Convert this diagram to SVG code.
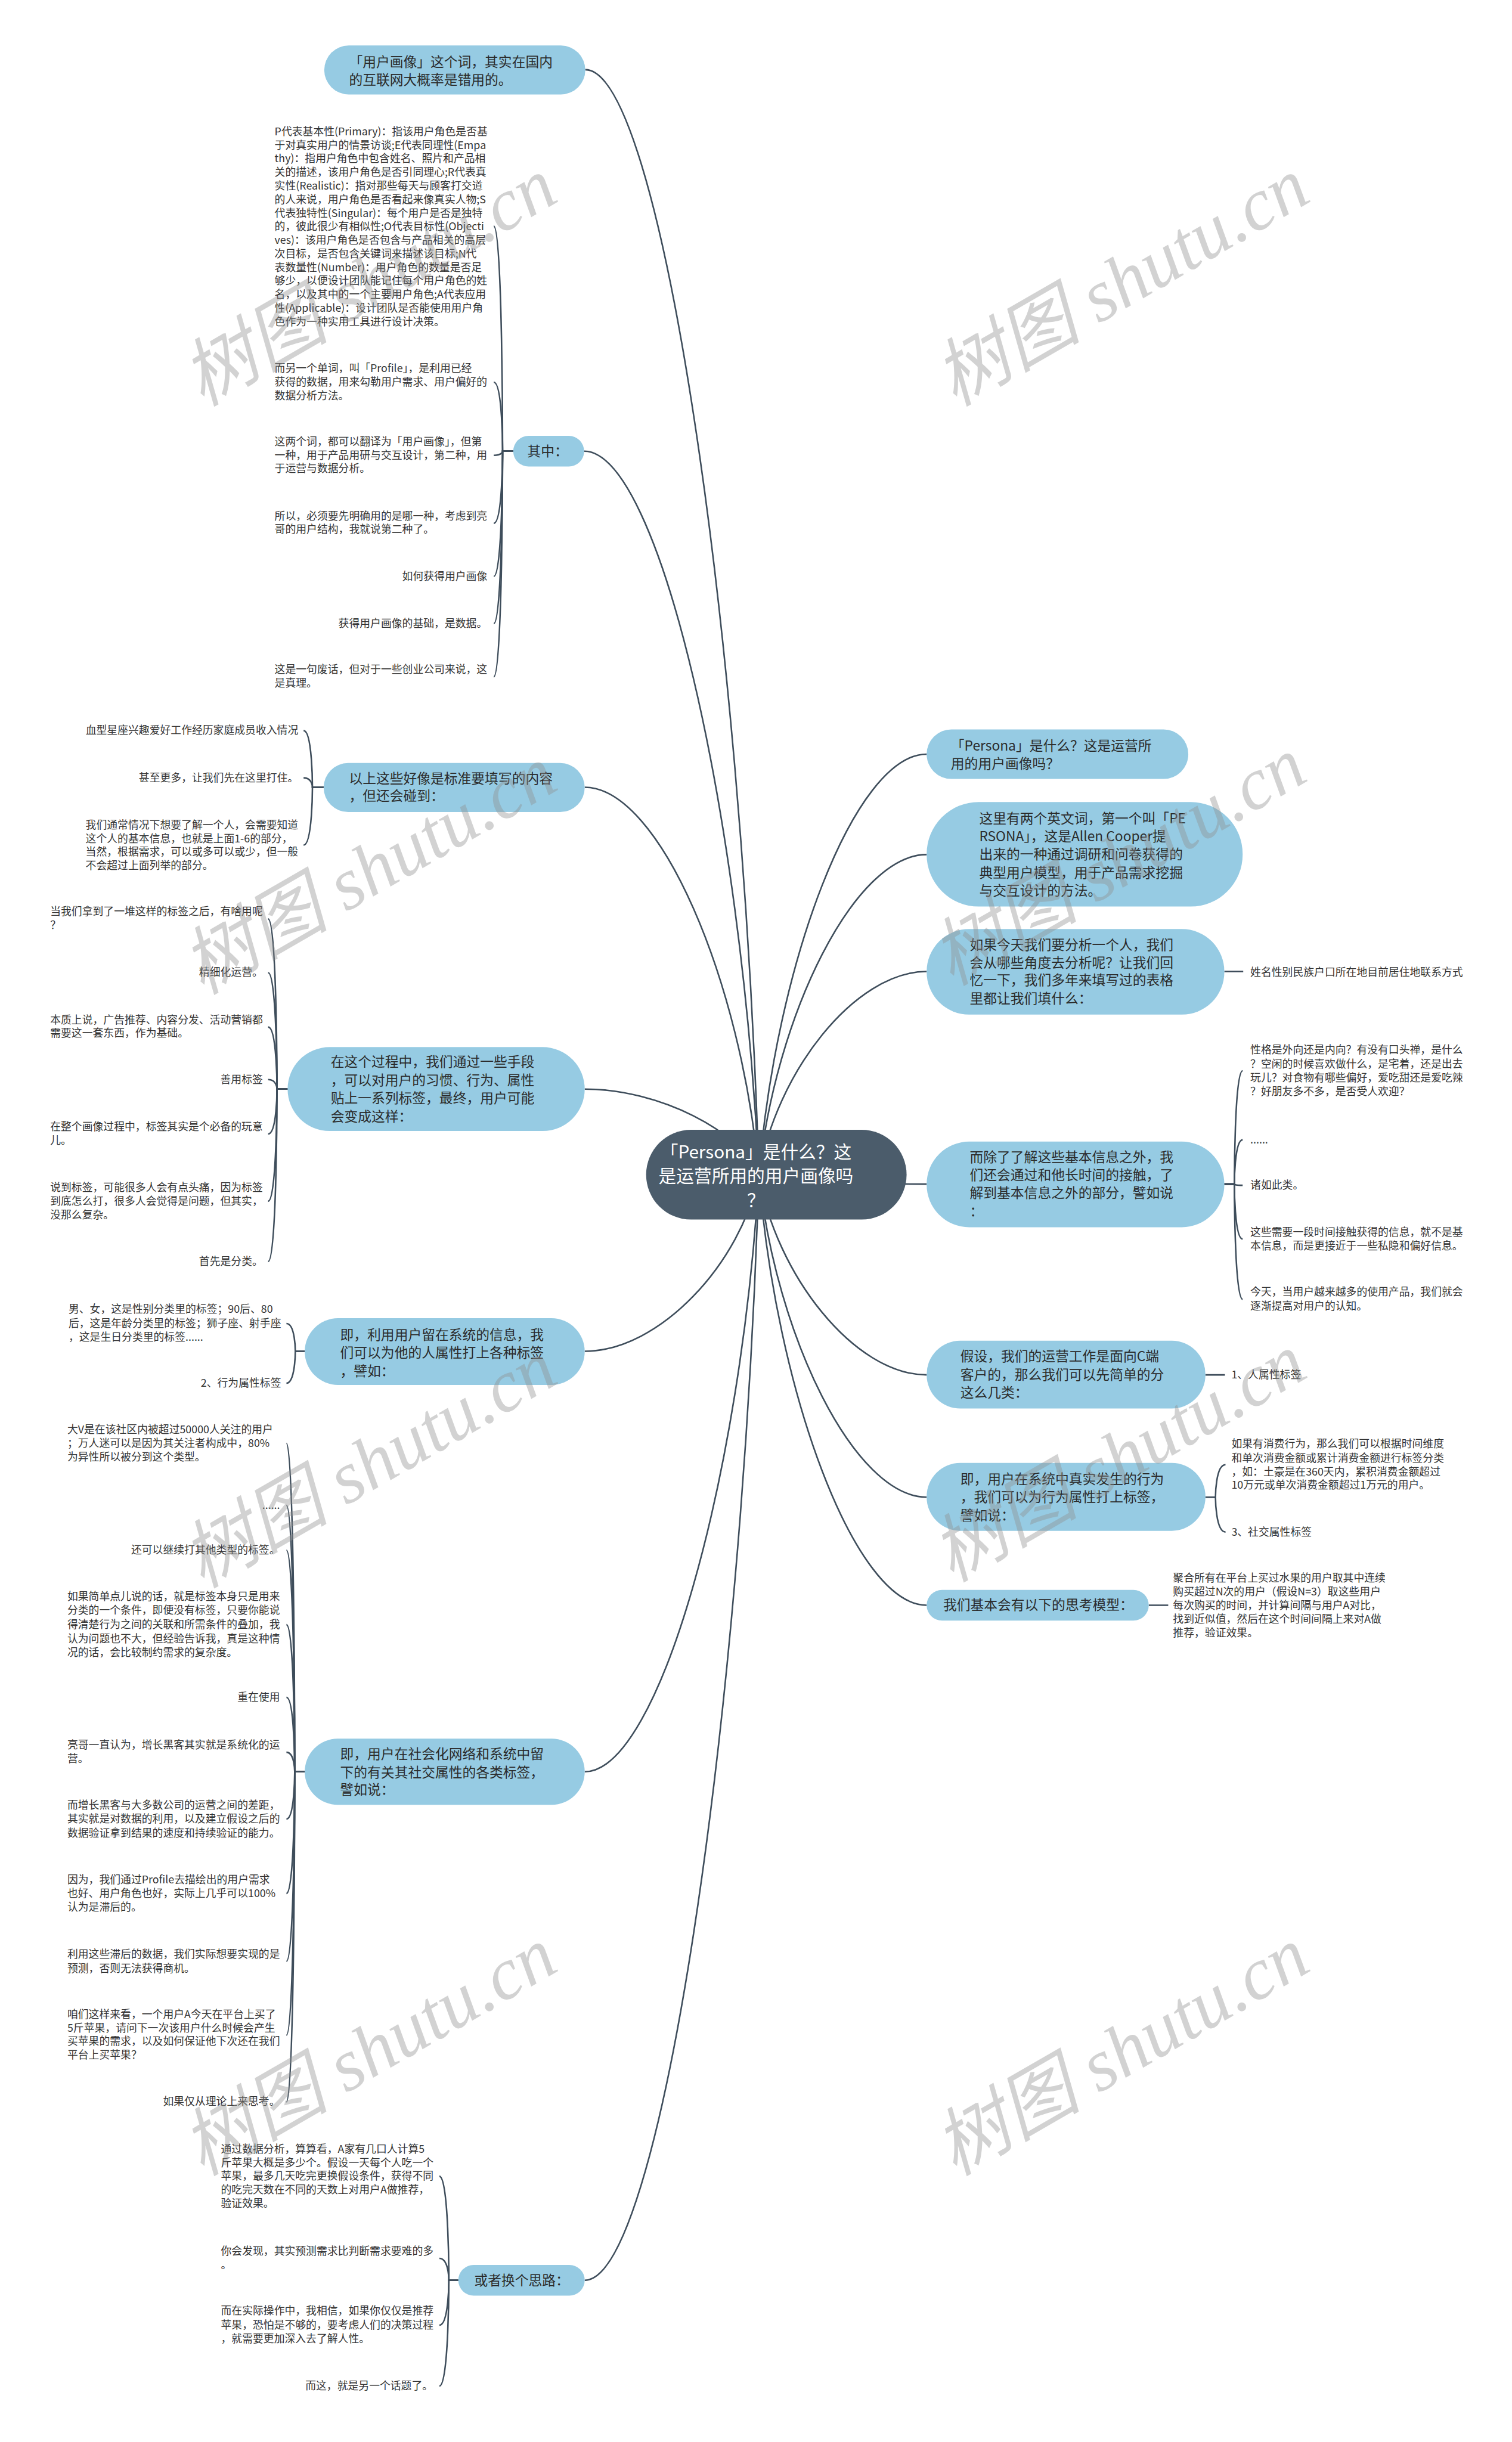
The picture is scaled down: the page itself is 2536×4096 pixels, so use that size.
<svg xmlns="http://www.w3.org/2000/svg" width="2536" height="4096" viewBox="0 0 2536 4096">
<style>
.t{font-family:"Noto Sans CJK SC","Liberation Sans",sans-serif;font-size:18px;fill:#333}
.e{text-anchor:end}
.n{font-family:"Noto Sans CJK SC","Liberation Sans",sans-serif;font-size:23px;fill:#2b2b2b}
.m{font-family:"Noto Sans CJK SC","Liberation Sans",sans-serif;font-size:30px;fill:#fff;text-anchor:middle}
.b{fill:#96cbe3}
.lk path{fill:none;stroke:#3e4d5b;stroke-width:2.6}
.wm{font-family:"Liberation Serif","Noto Sans CJK SC",serif;font-style:italic;font-size:125px;fill:#909090;opacity:0.4;text-anchor:middle}
</style>
<rect width="2536" height="4096" fill="#fff"/>
<g transform="scale(0.9906)">
<g id="connectors" class="lk">
<path d="M1285,1989C1255.6,1053.5 1117.4,118 991,118"/>
<path d="M1285,1989C1255.4,1376.5 1116.3,764 989,764"/>
<path d="M1285,1989C1255.5,1661 1116.9,1333 990,1333"/>
<path d="M1285,1989C1255.5,1916.5 1116.9,1844 990,1844"/>
<path d="M1285,1989C1255.5,2138.5 1116.9,2288 990,2288"/>
<path d="M1285,1989C1255.5,2494.5 1116.9,3000 990,3000"/>
<path d="M1285,1989C1255.5,2925 1116.9,3861 990,3861"/>
<path d="M1285,1989C1313.4,1633 1446.9,1277 1569,1277"/>
<path d="M1285,1989C1313.4,1718 1446.9,1447 1569,1447"/>
<path d="M1285,1989C1313.4,1817 1446.9,1645 1569,1645"/>
<path d="M1285,1989C1313.4,1997 1446.9,2005 1569,2005"/>
<path d="M1285,1989C1313.4,2158.5 1446.9,2328 1569,2328"/>
<path d="M1285,1989C1313.4,2262 1446.9,2535 1569,2535"/>
<path d="M1285,1989C1313.4,2353.5 1446.9,2718 1569,2718"/>
<!-- 其中 -->
<path d="M869,764H851C851,764 851,383 836,383"/>
<path d="M869,764H851C851,764 851,647 836,647"/>
<path d="M869,764H851C851,764 851,771 836,771"/>
<path d="M869,764H851C851,764 851,886 836,886"/>
<path d="M869,764H851C851,764 851,976 836,976"/>
<path d="M869,764H851C851,764 851,1056 836,1056"/>
<path d="M869,764H851C851,764 851,1146 836,1146"/>
<!-- 以上这些 -->
<path d="M548,1333H529C529,1333 529,1237 514,1237"/>
<path d="M548,1333H529C529,1333 529,1317 514,1317"/>
<path d="M548,1333H529C529,1333 529,1431 514,1431"/>
<!-- 在这个过程中 -->
<path d="M487,1844H469C469,1844 469,1556 454,1556"/>
<path d="M487,1844H469C469,1844 469,1647 454,1647"/>
<path d="M487,1844H469C469,1844 469,1739 454,1739"/>
<path d="M487,1844H469C469,1844 469,1828 454,1828"/>
<path d="M487,1844H469C469,1844 469,1920 454,1920"/>
<path d="M487,1844H469C469,1844 469,2034 454,2034"/>
<path d="M487,1844H469C469,1844 469,2136 454,2136"/>
<!-- 即，利用用户留在 -->
<path d="M516,2288H500C500,2288 500,2241 485,2241"/>
<path d="M516,2288H500C500,2288 500,2342 485,2342"/>
<!-- 即，用户在社会化 -->
<path d="M516,3000H499C499,3000 499,2444 485,2444"/>
<path d="M516,3000H499C499,3000 499,2549 485,2549"/>
<path d="M516,3000H499C499,3000 499,2625 485,2625"/>
<path d="M516,3000H499C499,3000 499,2751 485,2751"/>
<path d="M516,3000H499C499,3000 499,2874 485,2874"/>
<path d="M516,3000H499C499,3000 499,2967 485,2967"/>
<path d="M516,3000H499C499,3000 499,3080 485,3080"/>
<path d="M516,3000H499C499,3000 499,3206 485,3206"/>
<path d="M516,3000H499C499,3000 499,3321 485,3321"/>
<path d="M516,3000H499C499,3000 499,3446 485,3446"/>
<path d="M516,3000H499C499,3000 499,3559 485,3559"/>
<!-- 或者换个思路 -->
<path d="M776,3861H760C760,3861 760,3685 744,3685"/>
<path d="M776,3861H760C760,3861 760,3824 744,3824"/>
<path d="M776,3861H760C760,3861 760,3937 744,3937"/>
<path d="M776,3861H760C760,3861 760,4040 744,4040"/>
<!-- right -->
<path d="M2073,1645H2105"/>
<path d="M2073,2005H2090C2090,2005 2090,1813 2104,1813"/>
<path d="M2073,2005H2090C2090,2005 2090,1930 2104,1930"/>
<path d="M2073,2005H2090C2090,2005 2090,2007 2104,2007"/>
<path d="M2073,2005H2090C2090,2005 2090,2098 2104,2098"/>
<path d="M2073,2005H2090C2090,2005 2090,2200 2104,2200"/>
<path d="M2041,2328H2074"/>
<path d="M2041,2535H2058C2058,2535 2058,2480 2075,2480"/>
<path d="M2041,2535H2058C2058,2535 2058,2594 2075,2594"/>
<path d="M1945,2718H1978"/>
</g>

<g id="center">
<rect x="1094" y="1913" width="441" height="152" rx="76" fill="#4b5c6b"/>
<text class="m"><tspan x="1280" y="1961">「Persona」是什么？这</tspan><tspan x="1280" y="2002">是运营所用的用户画像吗</tspan><tspan x="1280" y="2043">？</tspan></text>
</g>

<g id="node-l1">
<rect class="b" x="549" y="77" width="442" height="83" rx="41.5"/>
<text class="n"><tspan x="591" y="113">「用户画像」这个词，其实在国内</tspan><tspan x="591" y="143">的互联网大概率是错用的。</tspan></text>
</g>
<g id="node-l2">
<rect class="b" x="869" y="738" width="120" height="52" rx="26"/>
<text class="n" x="893" y="772">其中：</text>
<g id="l2-children">
<text class="t"><tspan x="465" y="229">P代表基本性(Primary)：指该用户角色是否基</tspan><tspan x="465" y="252">于对真实用户的情景访谈;E代表同理性(Empa</tspan><tspan x="465" y="275">thy)：指用户角色中包含姓名、照片和产品相</tspan><tspan x="465" y="298">关的描述，该用户角色是否引同理心;R代表真</tspan><tspan x="465" y="321">实性(Realistic)：指对那些每天与顾客打交道</tspan><tspan x="465" y="344">的人来说，用户角色是否看起来像真实人物;S</tspan><tspan x="465" y="367">代表独特性(Singular)：每个用户是否是独特</tspan><tspan x="465" y="390">的，彼此很少有相似性;O代表目标性(Objecti</tspan><tspan x="465" y="413">ves)：该用户角色是否包含与产品相关的高层</tspan><tspan x="465" y="436">次目标，是否包含关键词来描述该目标;N代</tspan><tspan x="465" y="459">表数量性(Number)：用户角色的数量是否足</tspan><tspan x="465" y="482">够少，以便设计团队能记住每个用户角色的姓</tspan><tspan x="465" y="505">名，以及其中的一个主要用户角色;A代表应用</tspan><tspan x="465" y="528">性(Applicable)：设计团队是否能使用用户角</tspan><tspan x="465" y="551">色作为一种实用工具进行设计决策。</tspan></text>
<text class="t"><tspan x="465" y="630">而另一个单词，叫「Profile」，是利用已经</tspan><tspan x="465" y="653">获得的数据，用来勾勒用户需求、用户偏好的</tspan><tspan x="465" y="676">数据分析方法。</tspan></text>
<text class="t"><tspan x="465" y="754">这两个词，都可以翻译为「用户画像」，但第</tspan><tspan x="465" y="777">一种，用于产品用研与交互设计，第二种，用</tspan><tspan x="465" y="800">于运营与数据分析。</tspan></text>
<text class="t"><tspan x="465" y="880">所以，必须要先明确用的是哪一种，考虑到亮</tspan><tspan x="465" y="903">哥的用户结构，我就说第二种了。</tspan></text>
<text class="t e" x="825" y="982">如何获得用户画像</text>
<text class="t e" x="825" y="1062">获得用户画像的基础，是数据。</text>
<text class="t"><tspan x="465" y="1140">这是一句废话，但对于一些创业公司来说，这</tspan><tspan x="465" y="1163">是真理。</tspan></text>
</g>
</g>
<g id="node-l3">
<rect class="b" x="548" y="1292" width="442" height="83" rx="41.5"/>
<text class="n"><tspan x="591" y="1326">以上这些好像是标准要填写的内容</tspan><tspan x="591" y="1356">，但还会碰到：</tspan></text>
<g id="l3-children">
<text class="t e" x="505" y="1243">血型星座兴趣爱好工作经历家庭成员收入情况</text>
<text class="t e" x="505" y="1323">甚至更多，让我们先在这里打住。</text>
<text class="t"><tspan x="145" y="1403">我们通常情况下想要了解一个人，会需要知道</tspan><tspan x="145" y="1426">这个人的基本信息，也就是上面1-6的部分，</tspan><tspan x="145" y="1449">当然，根据需求，可以或多可以或少，但一般</tspan><tspan x="145" y="1472">不会超过上面列举的部分。</tspan></text>
</g>
</g>
<g id="node-l4">
<rect class="b" x="487" y="1773" width="503" height="142" rx="71"/>
<text class="n"><tspan x="560" y="1806">在这个过程中，我们通过一些手段</tspan><tspan x="560" y="1837">，可以对用户的习惯、行为、属性</tspan><tspan x="560" y="1868">贴上一系列标签，最终，用户可能</tspan><tspan x="560" y="1899">会变成这样：</tspan></text>
<g id="l4-children">
<text class="t"><tspan x="85" y="1550">当我们拿到了一堆这样的标签之后，有啥用呢</tspan><tspan x="85" y="1573">？</tspan></text>
<text class="t e" x="445" y="1653">精细化运营。</text>
<text class="t"><tspan x="85" y="1733">本质上说，广告推荐、内容分发、活动营销都</tspan><tspan x="85" y="1756">需要这一套东西，作为基础。</tspan></text>
<text class="t e" x="445" y="1834">善用标签</text>
<text class="t"><tspan x="85" y="1914">在整个画像过程中，标签其实是个必备的玩意</tspan><tspan x="85" y="1937">儿。</tspan></text>
<text class="t"><tspan x="85" y="2017">说到标签，可能很多人会有点头痛，因为标签</tspan><tspan x="85" y="2040">到底怎么打，很多人会觉得是问题，但其实，</tspan><tspan x="85" y="2063">没那么复杂。</tspan></text>
<text class="t e" x="445" y="2142">首先是分类。</text>
</g>
</g>
<g id="node-l5">
<rect class="b" x="516" y="2232" width="474" height="113" rx="56.5"/>
<text class="n"><tspan x="576" y="2268">即，利用用户留在系统的信息，我</tspan><tspan x="576" y="2299">们可以为他的人属性打上各种标签</tspan><tspan x="576" y="2330">，譬如：</tspan></text>
<g id="l5-children">
<text class="t"><tspan x="116" y="2223">男、女，这是性别分类里的标签；90后、80</tspan><tspan x="116" y="2247">后，这是年龄分类里的标签；狮子座、射手座</tspan><tspan x="116" y="2270">，这是生日分类里的标签......</tspan></text>
<text class="t e" x="476" y="2348">2、行为属性标签</text>
</g>
</g>
<g id="node-l6">
<rect class="b" x="516" y="2944" width="474" height="112" rx="56"/>
<text class="n"><tspan x="576" y="2978">即，用户在社会化网络和系统中留</tspan><tspan x="576" y="3009">下的有关其社交属性的各类标签，</tspan><tspan x="576" y="3039">譬如说：</tspan></text>
<g id="l6-children">
<text class="t"><tspan x="114" y="2427">大V是在该社区内被超过50000人关注的用户</tspan><tspan x="114" y="2450">；万人迷可以是因为其关注者构成中，80%</tspan><tspan x="114" y="2473">为异性所以被分到这个类型。</tspan></text>
<text class="t e" x="474" y="2555">......</text>
<text class="t e" x="474" y="2631">还可以继续打其他类型的标签。</text>
<text class="t"><tspan x="114" y="2709">如果简单点儿说的话，就是标签本身只是用来</tspan><tspan x="114" y="2733">分类的一个条件，即便没有标签，只要你能说</tspan><tspan x="114" y="2757">得清楚行为之间的关联和所需条件的叠加，我</tspan><tspan x="114" y="2781">认为问题也不大，但经验告诉我，真是这种情</tspan><tspan x="114" y="2804">况的话，会比较制约需求的复杂度。</tspan></text>
<text class="t e" x="474" y="2880">重在使用</text>
<text class="t"><tspan x="114" y="2961">亮哥一直认为，增长黑客其实就是系统化的运</tspan><tspan x="114" y="2984">营。</tspan></text>
<text class="t"><tspan x="114" y="3063">而增长黑客与大多数公司的运营之间的差距，</tspan><tspan x="114" y="3086">其实就是对数据的利用，以及建立假设之后的</tspan><tspan x="114" y="3110">数据验证拿到结果的速度和持续验证的能力。</tspan></text>
<text class="t"><tspan x="114" y="3189">因为，我们通过Profile去描绘出的用户需求</tspan><tspan x="114" y="3212">也好、用户角色也好，实际上几乎可以100%</tspan><tspan x="114" y="3235">认为是滞后的。</tspan></text>
<text class="t"><tspan x="114" y="3315">利用这些滞后的数据，我们实际想要实现的是</tspan><tspan x="114" y="3339">预测，否则无法获得商机。</tspan></text>
<text class="t"><tspan x="114" y="3417">咱们这样来看，一个用户A今天在平台上买了</tspan><tspan x="114" y="3440">5斤苹果，请问下一次该用户什么时候会产生</tspan><tspan x="114" y="3463">买苹果的需求，以及如何保证他下次还在我们</tspan><tspan x="114" y="3486">平台上买苹果？</tspan></text>
<text class="t e" x="474" y="3565">如果仅从理论上来思考。</text>
</g>
</g>
<g id="node-l7">
<rect class="b" x="776" y="3835" width="214" height="52" rx="26"/>
<text class="n" x="803" y="3869">或者换个思路：</text>
<g id="l7-children">
<text class="t"><tspan x="374" y="3645">通过数据分析，算算看，A家有几口人计算5</tspan><tspan x="374" y="3668">斤苹果大概是多少个。假设一天每个人吃一个</tspan><tspan x="374" y="3691">苹果，最多几天吃完更换假设条件，获得不同</tspan><tspan x="374" y="3714">的吃完天数在不同的天数上对用户A做推荐，</tspan><tspan x="374" y="3737">验证效果。</tspan></text>
<text class="t"><tspan x="374" y="3818">你会发现，其实预测需求比判断需求要难的多</tspan><tspan x="374" y="3841">。</tspan></text>
<text class="t"><tspan x="374" y="3919">而在实际操作中，我相信，如果你仅仅是推荐</tspan><tspan x="374" y="3943">苹果，恐怕是不够的，要考虑人们的决策过程</tspan><tspan x="374" y="3966">，就需要更加深入去了解人性。</tspan></text>
<text class="t e" x="733" y="4046">而这，就是另一个话题了。</text>
</g>
</g>

<g id="node-r1">
<rect class="b" x="1569" y="1235" width="443" height="84" rx="42"/>
<text class="n"><tspan x="1610" y="1271">「Persona」是什么？这是运营所</tspan><tspan x="1610" y="1301">用的用户画像吗？</tspan></text>
</g>
<g id="node-r2">
<rect class="b" x="1569" y="1358" width="535" height="177" rx="88"/>
<text class="n"><tspan x="1658" y="1394">这里有两个英文词，第一个叫「PE</tspan><tspan x="1658" y="1424">RSONA」，这是Allen Cooper提</tspan><tspan x="1658" y="1455">出来的一种通过调研和问卷获得的</tspan><tspan x="1658" y="1486">典型用户模型，用于产品需求挖掘</tspan><tspan x="1658" y="1516">与交互设计的方法。</tspan></text>
</g>
<g id="node-r3">
<rect class="b" x="1569" y="1573" width="504" height="145" rx="72"/>
<text class="n"><tspan x="1642" y="1608">如果今天我们要分析一个人，我们</tspan><tspan x="1642" y="1638">会从哪些角度去分析呢？让我们回</tspan><tspan x="1642" y="1668">忆一下，我们多年来填写过的表格</tspan><tspan x="1642" y="1699">里都让我们填什么：</tspan></text>
<text class="t" x="2117" y="1653">姓名性别民族户口所在地目前居住地联系方式</text>
</g>
<g id="node-r4">
<rect class="b" x="1569" y="1933" width="504" height="145" rx="72"/>
<text class="n"><tspan x="1642" y="1968">而除了了解这些基本信息之外，我</tspan><tspan x="1642" y="1998">们还会通过和他长时间的接触，了</tspan><tspan x="1642" y="2028">解到基本信息之外的部分，譬如说</tspan><tspan x="1642" y="2059">：</tspan></text>
<g id="r4-children">
<text class="t"><tspan x="2117" y="1784">性格是外向还是内向？有没有口头禅，是什么</tspan><tspan x="2117" y="1808">？空闲的时候喜欢做什么，是宅着，还是出去</tspan><tspan x="2117" y="1831">玩儿？对食物有哪些偏好，爱吃甜还是爱吃辣</tspan><tspan x="2117" y="1854">？好朋友多不多，是否受人欢迎？</tspan></text>
<text class="t" x="2117" y="1936">......</text>
<text class="t" x="2117" y="2013">诸如此类。</text>
<text class="t"><tspan x="2117" y="2093">这些需要一段时间接触获得的信息，就不是基</tspan><tspan x="2117" y="2116">本信息，而是更接近于一些私隐和偏好信息。</tspan></text>
<text class="t"><tspan x="2117" y="2194">今天，当用户越来越多的使用产品，我们就会</tspan><tspan x="2117" y="2218">逐渐提高对用户的认知。</tspan></text>
</g>
</g>
<g id="node-r5">
<rect class="b" x="1569" y="2270" width="472" height="115" rx="57"/>
<text class="n"><tspan x="1626" y="2305">假设，我们的运营工作是面向C端</tspan><tspan x="1626" y="2336">客户的，那么我们可以先简单的分</tspan><tspan x="1626" y="2366">这么几类：</tspan></text>
<text class="t" x="2085" y="2334">1、人属性标签</text>
</g>
<g id="node-r6">
<rect class="b" x="1569" y="2477" width="472" height="115" rx="57"/>
<text class="n"><tspan x="1626" y="2513">即，用户在系统中真实发生的行为</tspan><tspan x="1626" y="2543">，我们可以为行为属性打上标签，</tspan><tspan x="1626" y="2574">譬如说：</tspan></text>
<g id="r6-children">
<text class="t"><tspan x="2085" y="2451">如果有消费行为，那么我们可以根据时间维度</tspan><tspan x="2085" y="2475">和单次消费金额或累计消费金额进行标签分类</tspan><tspan x="2085" y="2498">，如：土豪是在360天内，累积消费金额超过</tspan><tspan x="2085" y="2521">10万元或单次消费金额超过1万元的用户。</tspan></text>
<text class="t" x="2085" y="2600">3、社交属性标签</text>
</g>
</g>
<g id="node-r7">
<rect class="b" x="1569" y="2692" width="376" height="52" rx="26"/>
<text class="n" x="1597" y="2726">我们基本会有以下的思考模型：</text>
<text class="t"><tspan x="1986" y="2678">聚合所有在平台上买过水果的用户取其中连续</tspan><tspan x="1986" y="2701">购买超过N次的用户（假设N=3）取这些用户</tspan><tspan x="1986" y="2725">每次购买的时间，并计算间隔与用户A对比，</tspan><tspan x="1986" y="2748">找到近似值，然后在这个时间间隔上来对A做</tspan><tspan x="1986" y="2771">推荐，验证效果。</tspan></text>
</g>

<g id="watermarks">
<text class="wm" transform="translate(646,514) rotate(-30)">树图 shutu.cn</text>
<text class="wm" transform="translate(1920,514) rotate(-30)">树图 shutu.cn</text>
<text class="wm" transform="translate(646,1510) rotate(-30)">树图 shutu.cn</text>
<text class="wm" transform="translate(1915,1495) rotate(-30)">树图 shutu.cn</text>
<text class="wm" transform="translate(646,2515) rotate(-30)">树图 shutu.cn</text>
<text class="wm" transform="translate(1915,2505) rotate(-30)">树图 shutu.cn</text>
<text class="wm" transform="translate(646,3510) rotate(-30)">树图 shutu.cn</text>
<text class="wm" transform="translate(1920,3510) rotate(-30)">树图 shutu.cn</text>
</g>
</g>
</svg>
